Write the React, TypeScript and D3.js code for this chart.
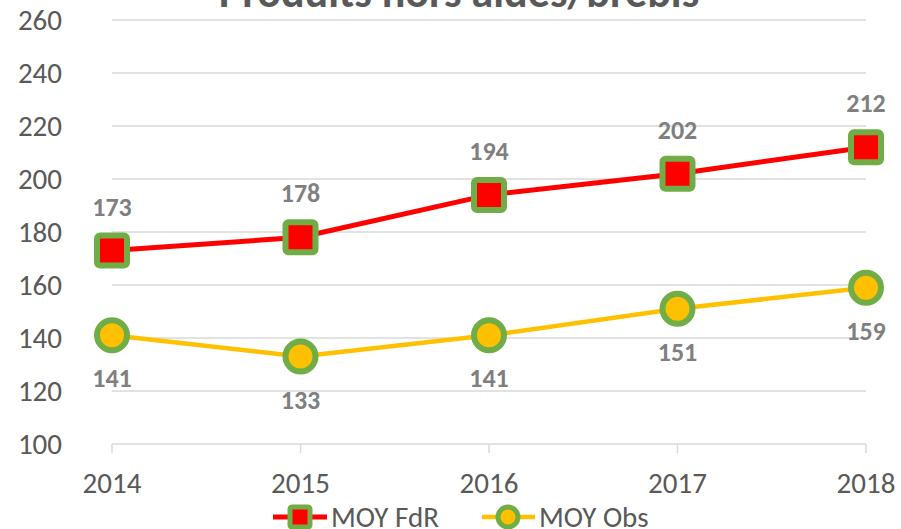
import React, { useEffect, useRef } from "react";
import * as d3 from "d3";

const years = ["2014", "2015", "2016", "2017", "2018"];
const fdrValues = [173, 178, 194, 202, 212];
const obsValues = [141, 133, 141, 151, 159];
const yTicks = [100, 120, 140, 160, 180, 200, 220, 240, 260];
const seriesNames = ["MOY FdR", "MOY Obs"];
const title = "Produits hors aides/brebis";

const width = 901;
const height = 529;
const font = "Carlito, Calibri, 'Open Sans', 'Liberation Sans', sans-serif";

const App = () => {
  const ref = useRef<SVGSVGElement>(null);

  useEffect(() => {
    const svg = d3.select(ref.current);
    svg.selectAll("*").remove();

    const x = d3.scalePoint().domain(years).range([112, 866]);
    const y = d3.scaleLinear().domain([100, 260]).range([444, 20]);

    // gridlines
    svg
      .append("g")
      .selectAll("line")
      .data(yTicks.slice(1))
      .join("line")
      .attr("x1", 112)
      .attr("x2", 866)
      .attr("y1", (d) => y(d))
      .attr("y2", (d) => y(d))
      .attr("stroke", "#d9d9d9")
      .attr("stroke-width", 1.5);

    // x axis
    svg
      .append("line")
      .attr("x1", 112)
      .attr("x2", 866)
      .attr("y1", y(100))
      .attr("y2", y(100))
      .attr("stroke", "#d9d9d9")
      .attr("stroke-width", 1.5);
    svg
      .append("g")
      .selectAll("line")
      .data(years)
      .join("line")
      .attr("x1", (d) => x(d)!)
      .attr("x2", (d) => x(d)!)
      .attr("y1", y(100))
      .attr("y2", y(100) + 9)
      .attr("stroke", "#d9d9d9")
      .attr("stroke-width", 1.5);

    // y labels
    svg
      .append("g")
      .selectAll("text")
      .data(yTicks)
      .join("text")
      .attr("x", 62)
      .attr("y", (d) => y(d) + 9.5)
      .attr("text-anchor", "end")
      .attr("font-family", font)
      .attr("font-size", 29)
      .attr("fill", "#595959")
      .text((d) => d);

    // x labels
    svg
      .append("g")
      .selectAll("text")
      .data(years)
      .join("text")
      .attr("x", (d) => x(d)!)
      .attr("y", 493)
      .attr("text-anchor", "middle")
      .attr("font-family", font)
      .attr("font-size", 29)
      .attr("fill", "#595959")
      .text((d) => d);

    // title (cut at the top)
    svg
      .append("text")
      .attr("x", 459)
      .attr("y", 7)
      .attr("text-anchor", "middle")
      .attr("font-family", font)
      .attr("font-size", 44)
      .attr("font-weight", "bold")
      .attr("fill", "#595959")
      .text(title);

    const line = d3
      .line<number>()
      .x((_, i) => x(years[i])!)
      .y((d) => y(d));

    // Obs series
    svg
      .append("path")
      .attr("d", line(obsValues))
      .attr("fill", "none")
      .attr("stroke", "#ffc000")
      .attr("stroke-width", 4.5);
    svg
      .append("g")
      .selectAll("circle")
      .data(obsValues)
      .join("circle")
      .attr("cx", (_, i) => x(years[i])!)
      .attr("cy", (d) => y(d))
      .attr("r", 15)
      .attr("fill", "#ffc000")
      .attr("stroke", "#70ad47")
      .attr("stroke-width", 6);

    // FdR series
    svg
      .append("path")
      .attr("d", line(fdrValues))
      .attr("fill", "none")
      .attr("stroke", "#ff0000")
      .attr("stroke-width", 5);
    svg
      .append("g")
      .selectAll("rect")
      .data(fdrValues)
      .join("rect")
      .attr("x", (_, i) => x(years[i])! - 15)
      .attr("y", (d) => y(d) - 15)
      .attr("width", 30)
      .attr("height", 30)
      .attr("rx", 3)
      .attr("fill", "#ff0000")
      .attr("stroke", "#70ad47")
      .attr("stroke-width", 6);

    // data labels
    svg
      .append("g")
      .selectAll("text")
      .data(fdrValues)
      .join("text")
      .attr("x", (_, i) => x(years[i])!)
      .attr("y", (d) => y(d) - 35)
      .attr("text-anchor", "middle")
      .attr("font-family", font)
      .attr("font-size", 26)
      .attr("font-weight", "bold")
      .attr("fill", "#7f7f7f")
      .text((d) => d);
    svg
      .append("g")
      .selectAll("text")
      .data(obsValues)
      .join("text")
      .attr("x", (_, i) => x(years[i])!)
      .attr("y", (d) => y(d) + 52)
      .attr("text-anchor", "middle")
      .attr("font-family", font)
      .attr("font-size", 26)
      .attr("font-weight", "bold")
      .attr("fill", "#7f7f7f")
      .text((d) => d);

    // legend
    const leg = svg.append("g");
    const ly = 517;
    leg.append("line").attr("x1", 273).attr("x2", 327).attr("y1", ly).attr("y2", ly)
      .attr("stroke", "#ff0000").attr("stroke-width", 5);
    leg.append("rect").attr("x", 290).attr("y", ly - 10).attr("width", 20).attr("height", 20)
      .attr("rx", 2).attr("fill", "#ff0000").attr("stroke", "#70ad47").attr("stroke-width", 5);
    leg.append("text").attr("x", 331).attr("y", ly + 10).attr("font-family", font)
      .attr("font-size", 29).attr("fill", "#595959").text(seriesNames[0]);
    leg.append("line").attr("x1", 482).attr("x2", 535).attr("y1", ly).attr("y2", ly)
      .attr("stroke", "#ffc000").attr("stroke-width", 4.5);
    leg.append("circle").attr("cx", 508).attr("cy", ly).attr("r", 10)
      .attr("fill", "#ffc000").attr("stroke", "#70ad47").attr("stroke-width", 5);
    leg.append("text").attr("x", 539).attr("y", ly + 10).attr("font-family", font)
      .attr("font-size", 29).attr("fill", "#595959").text(seriesNames[1]);
  }, []);

  return (
    <svg
      ref={ref}
      width={width}
      height={height}
      style={{ position: "absolute", left: 0, top: 0, background: "#fff" }}
    />
  );
};

export default App;
